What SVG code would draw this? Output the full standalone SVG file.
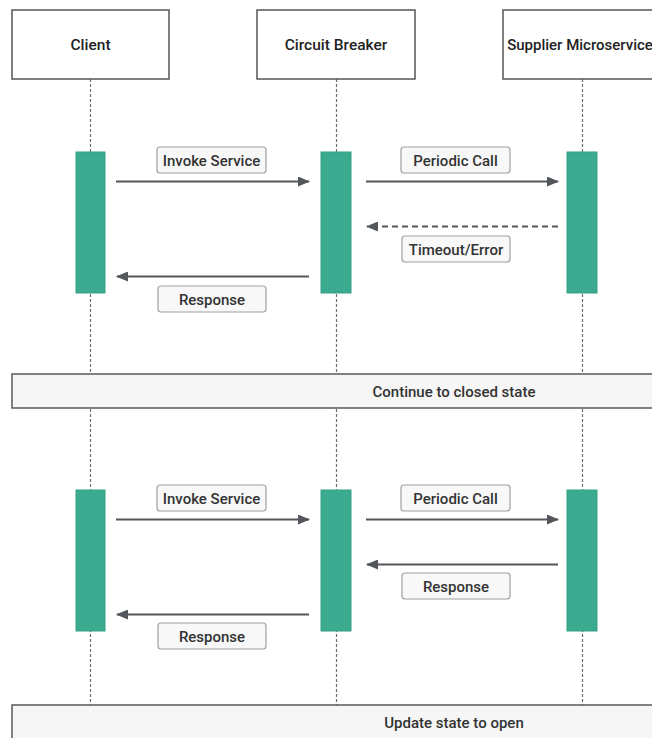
<svg xmlns="http://www.w3.org/2000/svg" width="652" height="738" viewBox="0 0 652 738">
  <style>
    .head { fill: #ffffff; stroke: #555555; stroke-width: 1.5; }
    .life { stroke: #6f6f6f; stroke-width: 1.2; stroke-dasharray: 3 2; fill: none; }
    .act { fill: #3BAA8F; stroke: #37a185; stroke-width: 1; }
    .msg { stroke: #53575c; stroke-width: 2; fill: none; }
    .dash { stroke-dasharray: 6 4; }
    .lbl { fill: #f8f8f8; stroke: #a0a0a0; stroke-width: 1.2; }
    .bar { fill: #f6f6f6; stroke: #5a5a5a; stroke-width: 1.5; }
    text { font-family: Roboto, "Liberation Sans", sans-serif; font-size: 15px; font-weight: 500; fill: #2a2a2a; text-anchor: middle; dominant-baseline: central; }
    .htxt { font-size: 15.5px; fill: #222222; }
    .ltxt { fill: #333333; }
  </style>
  <defs>
    <marker id="arrow" viewBox="0 0 12 10" refX="11" refY="5" markerWidth="12" markerHeight="10" markerUnits="userSpaceOnUse" orient="auto">
      <path d="M0,0 L12,5 L0,10 Z" fill="#53575c"/>
    </marker>
  </defs>

  <rect width="652" height="738" fill="#ffffff"/>

  <!-- lifelines -->
  <g id="lifelines">
    <line class="life" x1="90.5" y1="79" x2="90.5" y2="738"/>
    <line class="life" x1="336.5" y1="79" x2="336.5" y2="738"/>
    <line class="life" x1="582.5" y1="79" x2="582.5" y2="738"/>
  </g>

  <!-- participants -->
  <g id="client">
    <rect class="head" x="12" y="10" width="157" height="69"/>
    <text class="htxt" x="90.5" y="44.5">Client</text>
  </g>
  <g id="circuit-breaker">
    <rect class="head" x="257" y="10" width="158" height="69"/>
    <text class="htxt" x="336" y="44.5">Circuit Breaker</text>
  </g>
  <g id="supplier">
    <rect class="head" x="503" y="10" width="160" height="69"/>
    <text class="htxt" x="580" y="44.5" style="font-size:15px">Supplier Microservice</text>
  </g>

  <!-- activations -->
  <g id="activations">
    <rect class="act" x="76" y="152" width="29" height="141"/>
    <rect class="act" x="321" y="152" width="30" height="141"/>
    <rect class="act" x="567" y="152" width="30" height="141"/>
    <rect class="act" x="76" y="490" width="29" height="141"/>
    <rect class="act" x="321" y="490" width="30" height="141"/>
    <rect class="act" x="567" y="490" width="30" height="141"/>
  </g>

  <!-- messages -->
  <g id="connectors">
    <line class="msg" x1="116" y1="181.5" x2="309" y2="181.5" marker-end="url(#arrow)"/>
    <line class="msg" x1="366" y1="181.5" x2="558" y2="181.5" marker-end="url(#arrow)"/>
    <line class="msg dash" x1="558" y1="226.5" x2="367" y2="226.5" marker-end="url(#arrow)"/>
    <line class="msg" x1="309" y1="276.5" x2="117" y2="276.5" marker-end="url(#arrow)"/>

    <line class="msg" x1="116" y1="519.5" x2="309" y2="519.5" marker-end="url(#arrow)"/>
    <line class="msg" x1="366" y1="519.5" x2="558" y2="519.5" marker-end="url(#arrow)"/>
    <line class="msg" x1="558" y1="564.5" x2="367" y2="564.5" marker-end="url(#arrow)"/>
    <line class="msg" x1="309" y1="614.5" x2="117" y2="614.5" marker-end="url(#arrow)"/>
  </g>

  <!-- message labels -->
  <g id="label-invoke-1">
    <rect class="lbl" x="157" y="147" width="109" height="26" rx="3"/>
    <text class="ltxt" x="211.5" y="160.5">Invoke Service</text>
  </g>
  <g id="label-periodic-1">
    <rect class="lbl" x="401" y="147" width="109" height="26" rx="3"/>
    <text class="ltxt" x="455.5" y="160.5">Periodic Call</text>
  </g>
  <g id="label-timeout">
    <rect class="lbl" x="402" y="236" width="108" height="26" rx="3"/>
    <text class="ltxt" x="456" y="249.5">Timeout/Error</text>
  </g>
  <g id="label-response-1">
    <rect class="lbl" x="158" y="286" width="108" height="26" rx="3"/>
    <text class="ltxt" x="212" y="299.5">Response</text>
  </g>

  <g id="label-invoke-2">
    <rect class="lbl" x="157" y="485" width="109" height="26" rx="3"/>
    <text class="ltxt" x="211.5" y="498.5">Invoke Service</text>
  </g>
  <g id="label-periodic-2">
    <rect class="lbl" x="401" y="485" width="109" height="26" rx="3"/>
    <text class="ltxt" x="455.5" y="498.5">Periodic Call</text>
  </g>
  <g id="label-response-2">
    <rect class="lbl" x="402" y="573" width="108" height="26" rx="3"/>
    <text class="ltxt" x="456" y="586.5">Response</text>
  </g>
  <g id="label-response-3">
    <rect class="lbl" x="158" y="623" width="108" height="26" rx="3"/>
    <text class="ltxt" x="212" y="636.5">Response</text>
  </g>

  <!-- state dividers -->
  <g id="state-closed">
    <rect class="bar" x="12" y="374" width="660" height="34"/>
    <text class="ltxt" x="454" y="391.5">Continue to closed state</text>
  </g>
  <g id="state-open">
    <rect class="bar" x="12" y="705" width="660" height="45"/>
    <text class="ltxt" x="454" y="722.5">Update state to open</text>
  </g>
</svg>
